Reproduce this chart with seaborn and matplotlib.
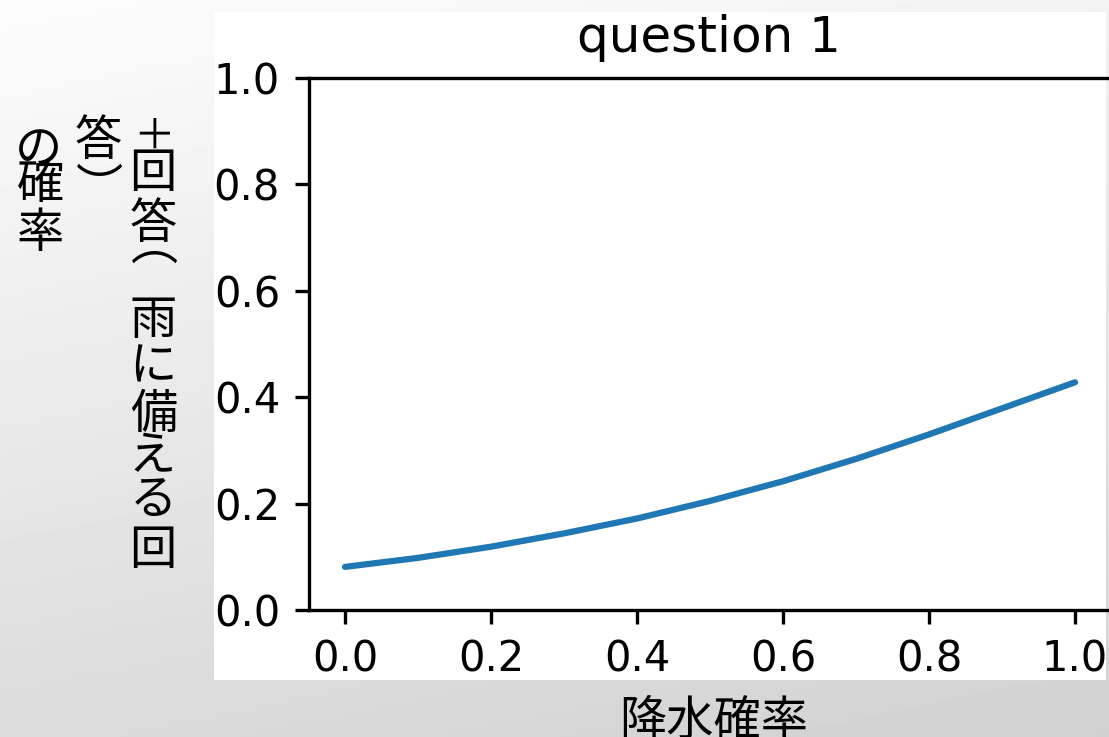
import numpy as np
import matplotlib
matplotlib.use("Agg")
import matplotlib.pyplot as plt
from matplotlib.patches import Rectangle
from matplotlib.textpath import TextPath
from matplotlib.font_manager import FontProperties
import seaborn as sns

# ---- data ----
precip_prob = [0.0, 0.1, 0.2, 0.3, 0.4, 0.5, 0.6, 0.7, 0.8, 0.9, 1.0]
answer_prob = [0.081, 0.098, 0.119, 0.144, 0.172, 0.205, 0.242, 0.284, 0.330, 0.379, 0.428]
x_ticks = [0.0, 0.2, 0.4, 0.6, 0.8, 1.0]
y_ticks = [0.0, 0.2, 0.4, 0.6, 0.8, 1.0]
title = "question 1"
x_label = "降水確率"
# vertical y label columns (right to left)
ylabel_cols = [
    ["＋", "回", "答", "︵", "雨", "に", "備", "え", "る", "回"],
    ["答", "︶"],
    ["の", "確", "率"],
]

sns.set_style("ticks", rc={
    "axes.edgecolor": "black", "xtick.color": "black", "ytick.color": "black",
    "text.color": "black", "axes.labelcolor": "black",
})
plt.rcParams["font.family"] = ["DejaVu Sans", "Noto Sans CJK JP"]

W, H = 1109, 737
DPI = 100
fig = plt.figure(figsize=(W / DPI, H / DPI), dpi=DPI)

def fx(px):
    return px / W

def fy(py):
    return 1 - py / H

JP = FontProperties(family="Noto Sans CJK JP")

def ink_text(s, size, cx=None, cy=None, left=None, top=None):
    """Place real text so that its inked glyph box sits at the given pixel spot."""
    tp = TextPath((0, 0), s, size=size, prop=JP)
    ext = tp.get_extents()
    k = DPI / 72.0
    x0, x1 = ext.x0 * k, ext.x1 * k
    y0, y1 = ext.y0 * k, ext.y1 * k
    if cx is not None:
        bx = cx - (x0 + x1) / 2
    else:
        bx = left - x0
    if cy is not None:
        by = cy + (y0 + y1) / 2  # baseline in px from top
    else:
        by = top + y1
    fig.text(fx(bx), fy(by), s, fontsize=size, ha="left", va="baseline",
             family=["Noto Sans CJK JP", "DejaVu Sans"])

# background gradient (slide)
bg = fig.add_axes([0, 0, 1, 1], zorder=-3)
yy, xx = np.mgrid[0:1:200j, 0:1:300j]
grad = 0.99 - 0.13 * yy - 0.04 * xx
bg.imshow(grad, cmap="gray", vmin=0, vmax=1, aspect="auto", extent=[0, 1, 0, 1], origin="upper")
bg.set_axis_off()

# white pasted panel
fig.patches.append(Rectangle((fx(214), fy(680)), fx(1106) - fx(214), fy(12) - fy(680),
                             transform=fig.transFigure, facecolor="white", edgecolor="none", zorder=-2))

ax = fig.add_axes([fx(308.5), fy(610), 803 / W, 532 / H])
ax.set_facecolor("none")
sns.lineplot(x=precip_prob, y=answer_prob, ax=ax, color="#1f77b4", linewidth=4.5)
ax.set_xlim(-0.05, 1.05)
ax.set_ylim(0, 1)
ax.set_xticks(x_ticks)
ax.set_yticks(y_ticks)
ax.set_xticklabels([f"{v:.1f}" for v in x_ticks])
ax.set_yticklabels([f"{v:.1f}" for v in y_ticks])
ax.tick_params(labelsize=30, length=10, width=2.4, pad=10.5)
for s in ax.spines.values():
    s.set_linewidth(2.4)
ax.set_xlabel("")
ax.set_ylabel("")

fig.text(fx(709), fy(52), title, fontsize=36, ha="center", va="baseline", family="DejaVu Sans")
ink_text(x_label, 34, left=623, top=695)

col_pos = [
    [(154, 133), (153, 170), (153, 220), (154, 257), (153, 317), (153, 363),
     (153, 410), (153, 452), (153, 497), (153, 547)],
    [(98, 137), (99, 170)],
    [(38, 147), (40, 180), (40, 229)],
]
for chars, poss in zip(ylabel_cols, col_pos):
    for ch, (cx, cy) in zip(chars, poss):
        ink_text(ch, 30 if ch == "＋" else 34, cx=cx, cy=cy)

fig.savefig("out.png", dpi=DPI)
